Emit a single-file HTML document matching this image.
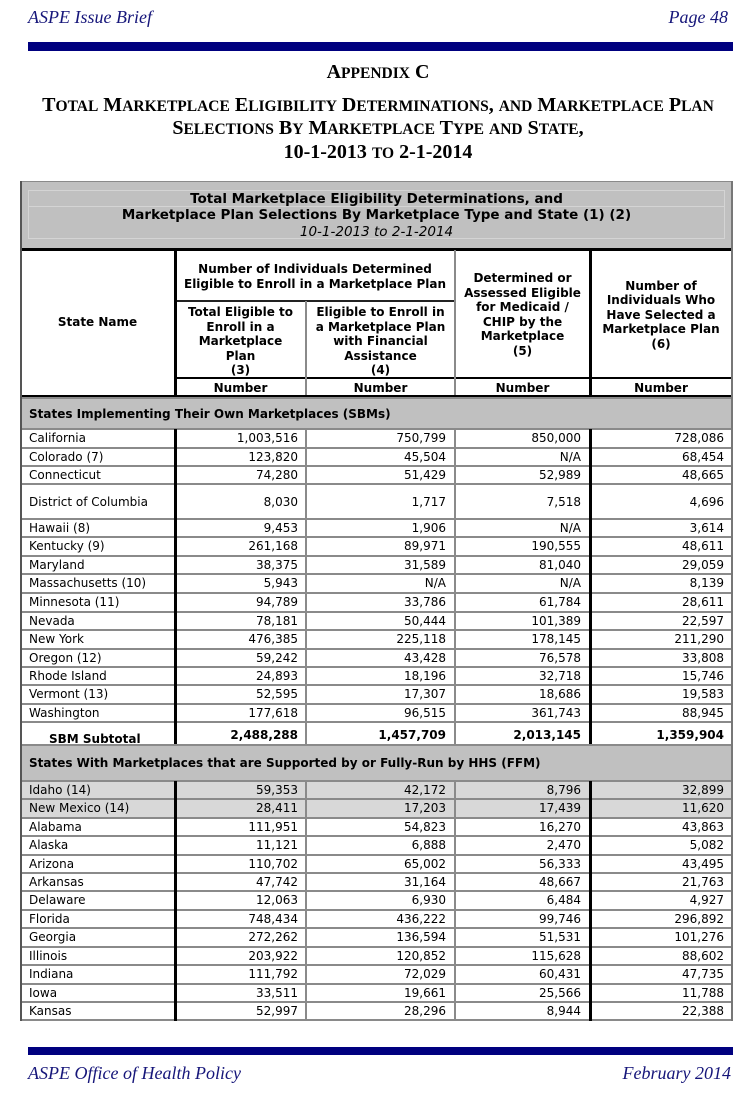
<!DOCTYPE html>
<html><head><meta charset="utf-8">
<style>
*{margin:0;padding:0;box-sizing:border-box}
html,body{width:756px;height:1101px;background:#fff;overflow:hidden}
body{position:relative;font-family:"DejaVu Sans","Liberation Sans",sans-serif;font-size:12px;color:#000}
.hdr{position:absolute;font-family:"Liberation Serif",serif;font-style:italic;font-size:18px;color:#16167a;line-height:18px;white-space:nowrap}
.bar{position:absolute;left:28px;width:705px;background:#00007f}
.ttl{position:absolute;left:0;width:756px;text-align:center;font-family:"Liberation Serif",serif;font-weight:bold;font-size:20px;white-space:nowrap;line-height:20px;color:#000}
.ttl span{font-size:15.5px}
.a{position:absolute;white-space:nowrap}
.b{font-weight:bold}
.cen{text-align:center}
.r{position:absolute;left:20px;width:712px}
.r::before{content:"";position:absolute;left:0;right:0;top:-1px;height:2px;background:#8a8a8a}
.r span{position:absolute;top:0;white-space:nowrap}
.r .s{left:9px}
.r .c3{right:434px}
.r .c4{right:286px}
.r .c5{right:151px}
.r .c6{right:8px}
.sec{background:#c0c0c0;font-weight:bold}
.hl{background:#d8d8d8}
.blk{position:absolute;background:#000}
.gry{position:absolute;background:#8a8a8a}
</style></head><body>

<div class="hdr" style="left:28px;top:7.6px">ASPE Issue Brief</div>
<div class="hdr" style="right:28px;top:7.6px">Page 48</div>
<div class="bar" style="top:42.3px;height:8.7px"></div>

<div class="ttl" style="top:61.7px">A<span>PPENDIX</span> C</div>
<div class="ttl" style="top:94.7px">T<span>OTAL</span> M<span>ARKETPLACE</span> E<span>LIGIBILITY</span> D<span>ETERMINATIONS</span>, <span>AND</span> M<span>ARKETPLACE</span> P<span>LAN</span></div>
<div class="ttl" style="top:117.7px">S<span>ELECTIONS</span> B<span>Y</span> M<span>ARKETPLACE</span> T<span>YPE</span> <span>AND</span> S<span>TATE</span>,</div>
<div class="ttl" style="top:141.7px">10-1-2013 <span>TO</span> 2-1-2014</div>

<!-- title box -->
<div class="a" style="left:20px;top:181px;width:713px;height:68px;background:#c0c0c0;border:1px solid #8a8a8a;border-bottom:none"></div>
<div class="a" style="left:28px;top:190px;width:697px;height:49px;border:1px solid #d4d4d4"></div>
<div class="a" style="left:28px;top:206px;width:697px;height:1px;background:#d4d4d4"></div>
<div class="a cen" style="left:20px;width:713px;top:191px;line-height:16.3px;font-size:13.5px">
<b>Total Marketplace Eligibility Determinations, and</b><br>
<b>Marketplace Plan Selections By Marketplace Type and State (1) (2)</b><br>
<i>10-1-2013 to 2-1-2014</i></div>
<div class="blk" style="left:20px;top:248px;width:713px;height:3px"></div>

<!-- column headers -->
<div class="a b cen" style="left:20px;width:155px;top:250px;height:145px;line-height:145px">State Name</div>
<div class="a b cen" style="left:175px;width:280px;top:262.2px;line-height:14.5px">Number of Individuals Determined<br>Eligible to Enroll in a Marketplace Plan</div>
<div class="a b cen" style="left:175px;width:131px;top:305.3px;line-height:14.5px">Total Eligible to<br>Enroll in a<br>Marketplace<br>Plan<br>(3)</div>
<div class="a b cen" style="left:306px;width:149px;top:305.3px;line-height:14.5px">Eligible to Enroll in<br>a Marketplace Plan<br>with Financial<br>Assistance<br>(4)</div>
<div class="a b cen" style="left:455px;width:135px;top:271.4px;line-height:14.5px">Determined or<br>Assessed Eligible<br>for Medicaid /<br>CHIP by the<br>Marketplace<br>(5)</div>
<div class="a b cen" style="left:590px;width:142px;top:278.6px;line-height:14.5px">Number of<br>Individuals Who<br>Have Selected a<br>Marketplace Plan<br>(6)</div>
<div class="a b cen" style="left:175px;width:131px;top:379.5px;line-height:17.5px">Number</div>
<div class="a b cen" style="left:306px;width:149px;top:379.5px;line-height:17.5px">Number</div>
<div class="a b cen" style="left:455px;width:135px;top:379.5px;line-height:17.5px">Number</div>
<div class="a b cen" style="left:590px;width:142px;top:379.5px;line-height:17.5px">Number</div>

<div class="blk" style="left:175px;top:300px;width:280px;height:1.5px;background:#222"></div>
<div class="blk" style="left:175px;top:376.5px;width:557px;height:2px"></div>
<div class="gry" style="left:305px;top:301px;width:2px;height:94px"></div>
<div class="gry" style="left:454px;top:250px;width:2px;height:145px"></div>
<div class="blk" style="left:174px;top:250px;width:3px;height:145px"></div>
<div class="blk" style="left:589px;top:250px;width:3px;height:145px"></div>
<div class="blk" style="left:20px;top:394.5px;width:713px;height:3px"></div>

<!-- SBM section -->
<div class="r sec" style="top:397.5px;height:31.8px;line-height:33px"><span class="s">States Implementing Their Own Marketplaces (SBMs)</span></div>
<div class="r" style="top:429.3px;height:18.4px;line-height:19px"><span class="s">California</span><span class="c3">1,003,516</span><span class="c4">750,799</span><span class="c5">850,000</span><span class="c6">728,086</span></div>
<div class="r" style="top:447.7px;height:18.3px;line-height:19px"><span class="s">Colorado (7)</span><span class="c3">123,820</span><span class="c4">45,504</span><span class="c5">N/A</span><span class="c6">68,454</span></div>
<div class="r" style="top:466px;height:18.3px;line-height:19px"><span class="s">Connecticut</span><span class="c3">74,280</span><span class="c4">51,429</span><span class="c5">52,989</span><span class="c6">48,665</span></div>
<div class="r" style="top:484.3px;height:34.7px;line-height:37px"><span class="s">District of Columbia</span><span class="c3">8,030</span><span class="c4">1,717</span><span class="c5">7,518</span><span class="c6">4,696</span></div>
<div class="r" style="top:519px;height:18.3px;line-height:19px"><span class="s">Hawaii (8)</span><span class="c3">9,453</span><span class="c4">1,906</span><span class="c5">N/A</span><span class="c6">3,614</span></div>
<div class="r" style="top:537.3px;height:18.7px;line-height:19px"><span class="s">Kentucky (9)</span><span class="c3">261,168</span><span class="c4">89,971</span><span class="c5">190,555</span><span class="c6">48,611</span></div>
<div class="r" style="top:556px;height:18.3px;line-height:19px"><span class="s">Maryland</span><span class="c3">38,375</span><span class="c4">31,589</span><span class="c5">81,040</span><span class="c6">29,059</span></div>
<div class="r" style="top:574.3px;height:18.7px;line-height:19px"><span class="s">Massachusetts (10)</span><span class="c3">5,943</span><span class="c4">N/A</span><span class="c5">N/A</span><span class="c6">8,139</span></div>
<div class="r" style="top:593px;height:18.7px;line-height:19px"><span class="s">Minnesota (11)</span><span class="c3">94,789</span><span class="c4">33,786</span><span class="c5">61,784</span><span class="c6">28,611</span></div>
<div class="r" style="top:611.7px;height:18.3px;line-height:19px"><span class="s">Nevada</span><span class="c3">78,181</span><span class="c4">50,444</span><span class="c5">101,389</span><span class="c6">22,597</span></div>
<div class="r" style="top:630px;height:18.7px;line-height:19px"><span class="s">New York</span><span class="c3">476,385</span><span class="c4">225,118</span><span class="c5">178,145</span><span class="c6">211,290</span></div>
<div class="r" style="top:648.7px;height:18.3px;line-height:19px"><span class="s">Oregon (12)</span><span class="c3">59,242</span><span class="c4">43,428</span><span class="c5">76,578</span><span class="c6">33,808</span></div>
<div class="r" style="top:667px;height:18.3px;line-height:19px"><span class="s">Rhode Island</span><span class="c3">24,893</span><span class="c4">18,196</span><span class="c5">32,718</span><span class="c6">15,746</span></div>
<div class="r" style="top:685.3px;height:18.7px;line-height:19px"><span class="s">Vermont (13)</span><span class="c3">52,595</span><span class="c4">17,307</span><span class="c5">18,686</span><span class="c6">19,583</span></div>
<div class="r" style="top:704px;height:18.3px;line-height:19px"><span class="s">Washington</span><span class="c3">177,618</span><span class="c4">96,515</span><span class="c5">361,743</span><span class="c6">88,945</span></div>
<div class="r b" style="top:722.3px;height:22.7px;line-height:22.7px"><span style="left:29px;top:5.5px">SBM Subtotal</span><span class="c3" style="top:1.3px">2,488,288</span><span class="c4" style="top:1.3px">1,457,709</span><span class="c5" style="top:1.3px">2,013,145</span><span class="c6" style="top:1.3px">1,359,904</span></div>

<div class="blk" style="left:174px;top:429px;width:3px;height:316px"></div>
<div class="gry" style="left:305px;top:429px;width:2px;height:316px"></div>
<div class="gry" style="left:454px;top:429px;width:2px;height:316px"></div>
<div class="blk" style="left:589px;top:429px;width:3px;height:316px"></div>

<!-- FFM section -->
<div class="r sec" style="top:745px;height:36px;line-height:37px"><span class="s">States With Marketplaces that are Supported by or Fully-Run by HHS (FFM)</span></div>
<div class="r hl" style="top:781px;height:18.3px;line-height:19px"><span class="s">Idaho (14)</span><span class="c3">59,353</span><span class="c4">42,172</span><span class="c5">8,796</span><span class="c6">32,899</span></div>
<div class="r hl" style="top:799.3px;height:18.4px;line-height:19px"><span class="s">New Mexico (14)</span><span class="c3">28,411</span><span class="c4">17,203</span><span class="c5">17,439</span><span class="c6">11,620</span></div>
<div class="r" style="top:817.7px;height:18.6px;line-height:19px"><span class="s">Alabama</span><span class="c3">111,951</span><span class="c4">54,823</span><span class="c5">16,270</span><span class="c6">43,863</span></div>
<div class="r" style="top:836.3px;height:18.4px;line-height:19px"><span class="s">Alaska</span><span class="c3">11,121</span><span class="c4">6,888</span><span class="c5">2,470</span><span class="c6">5,082</span></div>
<div class="r" style="top:854.7px;height:18.3px;line-height:19px"><span class="s">Arizona</span><span class="c3">110,702</span><span class="c4">65,002</span><span class="c5">56,333</span><span class="c6">43,495</span></div>
<div class="r" style="top:873px;height:18.3px;line-height:19px"><span class="s">Arkansas</span><span class="c3">47,742</span><span class="c4">31,164</span><span class="c5">48,667</span><span class="c6">21,763</span></div>
<div class="r" style="top:891.3px;height:18.7px;line-height:19px"><span class="s">Delaware</span><span class="c3">12,063</span><span class="c4">6,930</span><span class="c5">6,484</span><span class="c6">4,927</span></div>
<div class="r" style="top:910px;height:18.3px;line-height:19px"><span class="s">Florida</span><span class="c3">748,434</span><span class="c4">436,222</span><span class="c5">99,746</span><span class="c6">296,892</span></div>
<div class="r" style="top:928.3px;height:18.4px;line-height:19px"><span class="s">Georgia</span><span class="c3">272,262</span><span class="c4">136,594</span><span class="c5">51,531</span><span class="c6">101,276</span></div>
<div class="r" style="top:946.7px;height:18.3px;line-height:19px"><span class="s">Illinois</span><span class="c3">203,922</span><span class="c4">120,852</span><span class="c5">115,628</span><span class="c6">88,602</span></div>
<div class="r" style="top:965px;height:18.7px;line-height:19px"><span class="s">Indiana</span><span class="c3">111,792</span><span class="c4">72,029</span><span class="c5">60,431</span><span class="c6">47,735</span></div>
<div class="r" style="top:983.7px;height:18.3px;line-height:19px"><span class="s">Iowa</span><span class="c3">33,511</span><span class="c4">19,661</span><span class="c5">25,566</span><span class="c6">11,788</span></div>
<div class="r" style="top:1002px;height:18.3px;line-height:19px"><span class="s">Kansas</span><span class="c3">52,997</span><span class="c4">28,296</span><span class="c5">8,944</span><span class="c6">22,388</span></div>
<div class="gry" style="left:20px;top:1019.3px;width:712px;height:2px"></div>

<div class="blk" style="left:174px;top:781px;width:3px;height:239.5px"></div>
<div class="gry" style="left:305px;top:781px;width:2px;height:239.5px"></div>
<div class="gry" style="left:454px;top:781px;width:2px;height:239.5px"></div>
<div class="blk" style="left:589px;top:781px;width:3px;height:239.5px"></div>

<!-- outer borders -->
<div class="a" style="left:20px;top:181px;width:1.5px;height:840px;background:#555"></div>
<div class="a" style="left:731.3px;top:181px;width:1.5px;height:840px;background:#777"></div>

<!-- footer -->
<div class="bar" style="top:1046.7px;height:8.5px"></div>
<div class="hdr" style="left:28px;top:1064px">ASPE Office of Health Policy</div>
<div class="hdr" style="right:25px;top:1064px">February 2014</div>

</body></html>
